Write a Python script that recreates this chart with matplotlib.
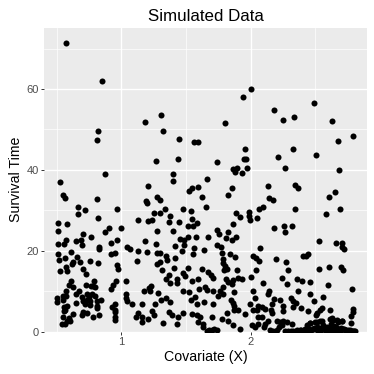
import matplotlib
matplotlib.use('Agg')
import matplotlib.pyplot as plt

plt.rcParams['font.family'] = ['Liberation Sans', 'DejaVu Sans']

# points above y=37
x_top = [0.57, 0.853, 0.817, 0.809, 0.871, 0.528, 1.186, 1.307, 1.325, 1.443,
         1.559, 1.595, 1.265, 1.441, 1.402, 1.397, 2.0, 1.941, 2.183, 2.492,
         2.247, 2.335, 2.631, 1.802, 2.794, 2.678, 1.956, 2.33, 2.209, 2.508,
         1.742, 1.948, 1.966, 1.972, 1.861, 1.894, 1.876, 1.93, 2.263, 2.683,
         1.665]
y_top = [71.3, 62.1, 49.7, 47.3, 38.9, 37.1, 51.8, 53.6, 49.5, 47.6,
         46.8, 47.0, 42.3, 42.6, 39.0, 37.3, 59.9, 58.0, 54.9, 56.5,
         52.3, 53.2, 52.2, 51.7, 48.4, 47.2, 45.1, 45.2, 43.2, 43.7,
         41.9, 42.6, 42.6, 40.4, 40.2, 40.4, 39.5, 39.1, 40.5, 39.9,
         37.7]

# lower left part of the panel
x_left = [1.204, 1.526, 1.549, 1.595, 0.546, 0.567, 0.812, 1.188, 1.201, 1.278,
          1.299, 0.668, 0.722, 0.668, 0.964, 1.335, 1.299, 1.25, 1.477, 1.536,
          0.82, 1.376, 1.209, 1.235, 1.126, 1.366, 1.448, 1.546, 1.582, 0.513,
          0.582, 0.513, 1.0, 0.902, 0.871, 1.278, 1.397, 1.513, 1.557, 0.706,
          0.768, 1.516, 1.575, 0.686, 0.65, 0.572, 0.508, 0.554, 0.70, 0.964,
          0.92, 1.18, 1.268, 1.451, 1.485, 1.418, 1.487, 0.83, 0.83, 1.046,
          1.07, 1.126, 1.196, 1.472, 1.562, 1.273, 1.299, 0.608, 0.513, 0.948,
          0.92, 1.552, 1.345, 1.415, 0.655, 0.562, 0.518, 0.683, 0.624, 0.621,
          0.76, 1.121, 1.356, 1.299, 1.273, 0.822, 0.964, 0.977, 0.575, 0.706,
          1.312, 0.526, 0.58, 0.724, 1.41, 1.518, 1.474, 1.495, 1.366, 1.345,
          1.595, 1.428, 0.959, 1.034, 0.611, 0.595, 0.791, 1.376, 1.433, 1.544,
          0.626, 0.729, 0.768, 0.778, 0.80, 0.938, 0.92, 1.23, 1.212, 1.178,
          1.222, 1.286, 1.477, 1.526, 1.603, 0.57, 0.673, 0.647, 0.55, 0.505,
          0.572, 0.732, 0.771, 0.693, 0.75, 0.80, 1.034, 1.034, 1.345, 1.572,
          0.505, 0.551, 0.706, 0.732, 0.758, 0.84, 0.809, 1.307, 1.041, 1.376,
          1.54, 1.585, 0.719, 0.758, 0.652, 0.58, 0.554, 0.812, 1.08, 1.16,
          1.262, 0.95, 0.925, 0.812, 0.562, 0.554, 0.95, 0.95, 0.706, 0.737,
          0.693, 0.629, 1.126, 1.234, 1.255, 1.368, 1.474, 1.544, 1.582, 0.83,
          0.78, 0.95, 0.95, 0.546, 0.598, 0.58, 1.113, 1.16, 1.21, 1.394,
          1.44, 1.43, 1.157, 1.32, 0.54, 0.605, 0.567, 1.59]
y_left = [35.9, 34.7, 35.4, 35.7, 33.7, 33.0, 32.7, 32.4, 31.8, 33.2,
          32.6, 30.7, 30.1, 29.1, 30.2, 30.4, 29.4, 29.3, 30.3, 29.9,
          28.2, 28.5, 27.4, 27.7, 27.5, 27.1, 27.1, 27.8, 26.8, 26.9,
          26.6, 24.8, 25.7, 25.7, 24.7, 24.8, 24.8, 26.0, 26.2, 24.2,
          23.4, 23.3, 23.3, 22.7, 22.4, 22.6, 21.7, 21.7, 21.5, 22.7,
          21.9, 22.4, 21.6, 22.9, 22.7, 21.1, 21.5, 20.9, 20.4, 21.0,
          20.3, 20.0, 19.7, 20.0, 20.7, 19.4, 19.4, 19.6, 19.1, 19.5,
          19.1, 19.2, 18.7, 18.2, 18.4, 18.2, 17.7, 17.2, 17.3, 16.7,
          17.5, 17.5, 17.7, 17.3, 16.7, 16.9, 16.5, 15.5, 16.0, 15.5,
          15.3, 14.9, 14.9, 14.2, 15.6, 15.7, 14.5, 13.8, 14.0, 13.0,
          13.0, 13.0, 12.6, 12.5, 12.5, 11.6, 12.6, 12.0, 12.0, 12.5,
          11.1, 11.6, 11.3, 11.3, 11.0, 11.4, 10.6, 11.3, 10.8, 10.0,
          10.0, 9.6, 10.1, 9.7, 10.6, 9.9, 10.1, 9.3, 8.9, 8.3,
          8.7, 9.3, 9.3, 8.5, 8.5, 8.7, 9.2, 8.3, 8.3, 8.5,
          7.3, 7.7, 7.5, 7.8, 7.5, 7.9, 7.5, 7.8, 7.5, 7.3,
          7.7, 6.8, 6.8, 6.6, 7.1, 6.4, 6.0, 6.4, 6.7, 6.7,
          6.7, 6.7, 6.0, 5.9, 5.4, 5.0, 5.4, 4.8, 4.8, 4.7,
          4.2, 4.4, 4.5, 5.0, 4.2, 4.8, 4.5, 4.4, 4.0, 4.2,
          3.7, 3.7, 2.9, 3.5, 3.4, 2.7, 3.7, 3.5, 3.2, 4.0,
          3.5, 1.9, 2.3, 2.2, 1.8, 2.7, 1.9, 2.3]

# lower right part of the panel
x_right = [2.137, 2.343, 2.369, 1.858, 1.822, 1.621, 2.145, 2.175, 2.652, 2.603,
           1.655, 2.098, 2.067, 2.343, 2.691, 2.585, 1.887, 1.918, 1.99, 1.99,
           1.995, 2.052, 1.866, 2.183, 2.258, 2.322, 2.268, 1.737, 1.758, 1.822,
           1.668, 1.81, 1.853, 1.887, 2.531, 2.66, 2.709, 2.704, 2.724, 1.742,
           1.768, 1.642, 2.07, 1.776, 1.84, 1.879, 1.784, 1.789, 1.802, 2.02,
           2.041, 2.067, 2.196, 2.407, 2.446, 2.428, 2.276, 2.289, 2.041, 1.621,
           1.814, 1.794, 1.892, 2.531, 2.608, 2.696, 2.716, 1.67, 1.691, 1.711,
           2.0, 1.809, 1.905, 1.93, 1.866, 1.827, 1.853, 2.24, 2.361, 2.399,
           2.461, 2.284, 2.098, 2.6, 1.789, 1.647, 1.66, 1.711, 1.763, 1.874,
           2.015, 2.363, 2.784, 2.142, 2.131, 2.459, 1.784, 1.75, 2.034, 2.562,
           1.85, 2.18, 2.227, 2.309, 2.49, 1.642, 1.711, 1.861, 2.162, 2.33,
           2.351, 1.995, 1.874, 2.059, 2.085, 2.02, 2.046, 2.111, 2.155, 2.247,
           2.247, 2.33, 2.387, 2.446, 2.554, 2.613, 2.536, 2.515, 2.505, 2.794,
           2.789, 2.773, 1.874, 1.905, 1.956, 1.82, 1.701, 1.778, 1.827, 1.866,
           1.918, 1.608, 1.629, 1.634, 2.059, 2.085, 2.059, 2.008, 2.034, 2.111,
           2.137, 2.103, 2.162, 2.201, 2.227, 2.24, 2.278, 2.317, 2.253, 2.222,
           2.433, 2.459, 2.51, 2.549, 2.613, 2.639, 2.704, 2.773, 2.678]
y_right = [35.9, 36.2, 35.6, 35.5, 33.7, 33.4, 33.0, 32.5, 34.4, 33.4,
           30.8, 30.9, 30.4, 30.4, 30.4, 29.0, 29.4, 28.3, 29.5, 28.7,
           27.5, 28.0, 26.6, 25.6, 26.1, 26.2, 24.6, 25.2, 24.2, 24.7,
           23.3, 23.2, 22.7, 23.3, 22.5, 21.8, 21.9, 21.0, 20.4, 21.3,
           20.9, 20.2, 20.7, 19.4, 19.1, 18.4, 18.0, 16.9, 16.3, 18.6,
           18.2, 17.4, 18.0, 18.8, 19.2, 18.8, 17.2, 15.3, 15.2, 15.5,
           15.5, 15.1, 15.2, 15.5, 15.9, 15.9, 15.1, 14.7, 14.0, 13.3,
           13.5, 13.0, 13.3, 12.9, 12.8, 12.2, 11.8, 13.3, 13.0, 12.5,
           12.3, 11.8, 12.0, 11.4, 11.0, 11.0, 10.3, 10.1, 10.1, 9.7,
           10.0, 10.1, 10.4, 9.9, 9.2, 9.2, 9.3, 8.7, 8.3, 8.6,
           7.8, 8.1, 7.9, 8.3, 7.6, 7.2, 6.8, 7.1, 6.8, 7.5,
           7.0, 6.7, 6.2, 6.2, 6.0, 5.4, 5.4, 5.5, 5.2, 6.2,
           5.0, 6.0, 5.9, 5.0, 5.8, 5.4, 5.2, 4.5, 4.0, 5.6,
           4.8, 3.8, 5.2, 5.4, 4.4, 4.5, 3.7, 3.1, 2.7, 1.7,
           0.7, 3.7, 1.9, 1.2, 3.5, 3.5, 1.9, 1.5, 1.1, 1.9,
           2.6, 1.1, 4.5, 2.7, 2.3, 1.7, 2.3, 1.9, 2.7, 1.2,
           1.7, 2.1, 2.3, 2.7, 3.1, 2.9, 2.6, 2.1, 2.3]

# points sitting almost on the floor of the panel
x_floor = [1.66, 1.68, 1.70, 1.72, 1.74, 2.15, 2.17, 2.20, 2.265, 2.29,
           2.33, 2.38, 2.44, 2.48, 2.51, 2.54, 2.56, 2.59, 2.60, 2.62,
           2.64, 2.645, 2.66, 2.68, 2.70, 2.72, 2.74, 2.78, 2.80, 2.40,
           2.46, 2.52, 2.58, 2.63, 2.67, 2.35, 2.31, 2.57, 2.61, 2.69,
           2.36, 2.37, 2.39, 2.41, 2.42, 2.43, 2.45, 2.47, 2.49, 2.50,
           2.53, 2.55, 2.65, 2.71, 2.73, 2.75, 2.76, 2.77, 2.79, 2.81,
           2.626, 2.665, 2.703, 2.536, 2.497, 2.458]
y_floor = [0.2, 0.4, 0.3, 0.5, 0.4, 0.3, 0.2, 0.3, 0.2, 0.1,
           0.2, 0.3, 0.5, 0.7, 1.0, 0.4, 1.5, 1.1, 0.4, 1.8,
           0.6, 1.4, 1.1, 0.5, 0.9, 0.6, 0.4, 0.2, 0.1, 0.1,
           0.2, 0.1, 0.2, 0.1, 0.2, 0.1, 0.1, 0.8, 0.9, 0.1,
           0.3, 0.2, 0.4, 0.3, 0.5, 0.4, 0.6, 0.4, 0.8, 0.5,
           0.9, 0.7, 0.8, 0.5, 0.3, 0.4, 0.2, 0.3, 0.1, 0.1,
           3.3, 2.85, 2.7, 2.7, 2.4, 2.0]

x = x_top + x_left + x_right + x_floor
y = y_top + y_left + y_right + y_floor

fig = plt.figure(figsize=(3.74, 3.74), dpi=100)
ax = fig.add_axes([44 / 374, 1 - 331.5 / 374, 323 / 374, 303.5 / 374])
ax.set_facecolor('#EBEBEB')

ax.scatter(x, y, s=19, color='black', linewidths=0, zorder=3)

ax.set_xlim(0.403, 2.899)
ax.set_ylim(0, 75.1)
ax.set_xticks([1, 2])
ax.set_yticks([0, 20, 40, 60])
ax.set_xticks([0.5, 1.5, 2.5], minor=True)
ax.set_yticks([10, 30, 50, 70], minor=True)
ax.grid(True, which='major', color='white', linewidth=1.0, zorder=1)
ax.grid(True, which='minor', color='white', linewidth=0.5, zorder=1)
ax.set_axisbelow(True)
for side in ax.spines.values():
    side.set_visible(False)
ax.tick_params(which='major', length=2.2, width=0.7, color='#333333',
               labelcolor='#4D4D4D', labelsize=8, pad=1.5)
ax.tick_params(which='minor', length=0)

ax.set_title('Simulated Data', fontsize=12.2, color='black', pad=5)
ax.set_xlabel('Covariate (X)', fontsize=10.2, labelpad=2.5)
ax.set_ylabel('Survival Time', fontsize=10.2, labelpad=2.5)

fig.savefig('out.png', dpi=100)
